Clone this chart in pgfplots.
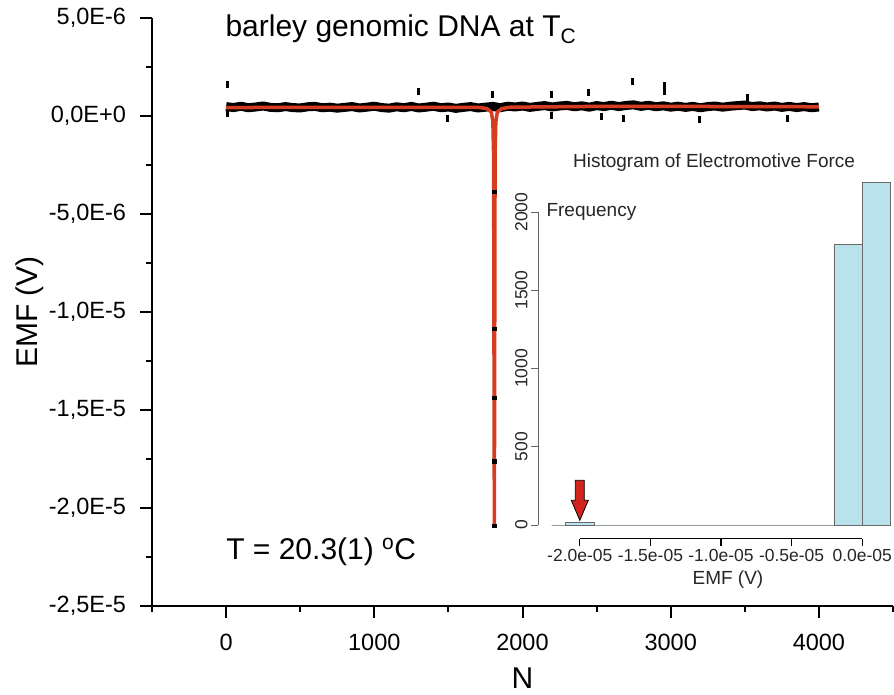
\documentclass[border=0pt]{standalone}
\usepackage{fontspec}
\setmainfont{Liberation Sans}
\usepackage{pgfplots}
\usepackage{pgfplotstable}
\pgfplotsset{compat=1.18}

\definecolor{fitred}{RGB}{214,60,34}
\definecolor{arrowred}{RGB}{210,36,28}
\definecolor{histblue}{RGB}{186,226,236}
\definecolor{histedge}{RGB}{105,105,105}

% black EMF band (sampled every 50 readings)
\pgfplotstableread{
N emf
0 4.8e-7
50 4.3e-7
100 5.0e-7
150 4.2e-7
200 4.6e-7
250 5.1e-7
300 4.4e-7
350 4.2e-7
400 4.8e-7
450 4.3e-7
500 4.1e-7
550 4.7e-7
600 4.9e-7
650 4.2e-7
700 4.5e-7
750 4.0e-7
800 4.4e-7
850 4.8e-7
900 4.1e-7
950 4.5e-7
1000 5.0e-7
1050 4.3e-7
1100 4.0e-7
1150 4.7e-7
1200 4.2e-7
1250 4.9e-7
1300 4.1e-7
1350 4.5e-7
1400 5.0e-7
1450 4.2e-7
1500 4.6e-7
1550 3.9e-7
1600 4.4e-7
1650 4.8e-7
1700 4.1e-7
1750 4.5e-7
1800 4.9e-7
1850 4.2e-7
1900 5.0e-7
1950 4.6e-7
2000 5.1e-7
2050 4.4e-7
2100 4.9e-7
2150 5.3e-7
2200 4.6e-7
2250 5.1e-7
2300 5.4e-7
2350 4.7e-7
2400 5.2e-7
2450 4.5e-7
2500 5.3e-7
2550 4.8e-7
2600 5.5e-7
2650 4.8e-7
2700 5.4e-7
2750 5.7e-7
2800 4.9e-7
2850 5.5e-7
2900 4.7e-7
2950 5.2e-7
3000 4.5e-7
3050 5.0e-7
3100 4.4e-7
3150 4.9e-7
3200 4.2e-7
3250 4.8e-7
3300 5.1e-7
3350 4.5e-7
3400 5.0e-7
3450 5.3e-7
3500 5.6e-7
3550 4.8e-7
3600 5.2e-7
3650 4.6e-7
3700 5.1e-7
3750 4.4e-7
3800 4.9e-7
3850 4.3e-7
3900 4.8e-7
3950 4.2e-7
4000 4.6e-7
}\bandtable

% isolated readings off the band
\pgfplotstableread{
N emf
10 1.62e-6
10 1.2e-7
1296 1.23e-6
1494 -1.2e-7
1800 1.12e-6
2196 1.12e-6
2196 2.0e-8
2443 1.20e-6
2533 -2.0e-8
2681 -1.5e-7
2740 1.74e-6
2955 1.55e-6
2955 1.25e-6
3192 -2.0e-7
3521 9.6e-7
3785 -1.5e-7
}\outliers

% fitted curve
\pgfplotstableread{
N emf
0 4.3e-7
500 4.4e-7
1000 4.4e-7
1500 4.45e-7
1700 4.4e-7
1760 3.8e-7
1790 2.0e-7
1800 -3.0e-7
1805 -2.0e-6
1810 -2.09e-5
1815 -2.0e-6
1820 -3.0e-7
1830 2.0e-7
1860 3.8e-7
1920 4.5e-7
2500 4.9e-7
3000 4.9e-7
3500 4.8e-7
4000 4.7e-7
}\fitcurve

\begin{document}
\begin{tikzpicture}
\begin{axis}[
    scale only axis,
    width=741pt, height=588pt,
    xmin=-500, xmax=4500,
    ymin=-2.5e-5, ymax=5e-6,
    clip=false,
    scaled x ticks=false, scaled y ticks=false,
    axis lines=left,
    axis line style={-, line width=2.4pt},
    tick align=outside,
    major tick length=11.5pt,
    minor tick length=6pt,
    tick style={black, line width=2pt},
    xtick={0,1000,2000,3000,4000},
    xticklabels={0,1000,2000,3000,4000},
    minor xtick={-500,500,1500,2500,3500,4500},
    ytick={-2.5e-5,-2e-5,-1.5e-5,-1e-5,-5e-6,0,5e-6},
    yticklabels={{-2,5E-5},{-2,0E-5},{-1,5E-5},{-1,0E-5},{-5,0E-6},{0,0E+0},{5,0E-6}},
    minor ytick={-2.25e-5,-1.75e-5,-1.25e-5,-7.5e-6,-2.5e-6,2.5e-6},
    tick label style={font=\fontsize{23.5}{23.5}\selectfont},
    xticklabel style={yshift=-13pt},
    yticklabel style={xshift=-11pt},
    xlabel={N}, ylabel={EMF (V)},
    label style={font=\fontsize{30}{30}\selectfont},
    xlabel style={at={(axis description cs:0.5,-0.122)}, anchor=center},
    ylabel style={at={(axis description cs:-0.165,0.5)}, anchor=center},
]
\addplot[black, line width=9pt, line join=round] table[x=N, y=emf] {\bandtable};
\addplot[only marks, mark=|, mark size=3.5pt, mark options={line width=3pt, black}] table[x=N, y=emf] {\outliers};
\addplot[fitred, line width=3.5pt] table[x=N, y=emf] {\fitcurve};
\addplot[only marks, mark=square*, mark size=1.8pt, black] coordinates {
    (1810,-3.86e-6) (1810,-1.086e-5) (1810,-1.437e-5) (1810,-1.761e-5) (1810,-2.09e-5)};
\node[anchor=base west, font=\fontsize{30}{30}\selectfont] at (rel axis cs:0.0945,0.9677)
    {barley genomic DNA at T\textsubscript{C}};
\node[anchor=base west, font=\fontsize{30}{30}\selectfont] at (rel axis cs:0.0955,0.0799)
    {T = 20.3(1) \textsuperscript{o}C};
\end{axis}

\begin{axis}[
    at={(386pt,67.3pt)}, anchor=south west,
    scale only axis,
    width=366pt, height=370.3pt,
    xmin=-2.296e-5, xmax=2.96e-6,
    ymin=-87.6, ymax=2278.6,
    scaled x ticks=false, scaled y ticks=false,
    axis lines=left,
    axis line style={draw=none},
    tick align=outside,
    major tick length=7pt,
    xtick={-2e-5,-1.5e-5,-1e-5,-5e-6,0},
    xticklabels={-2.0e-05,-1.5e-05,-1.0e-05,-0.5e-05,0.0e-05},
    ytick={0,500,1000,1500,2000},
    yticklabels={0,500,1000,1500,2000},
    yticklabel style={rotate=90, anchor=south},
    xtick style={black, line width=1.2pt},
    ytick style={black!60, line width=0.9pt},
    tick label style={font=\fontsize{17.5}{17.5}\selectfont, text=black!85},
    clip=false,
]
\addplot[ybar interval, fill=histblue, draw=histedge, line width=0.8pt] coordinates {
    (-2.2e-5,0) (-2.1e-5,17) (-1.9e-5,0) (-2e-6,1790) (0,2190) (2e-6,0)};
\draw[black, line width=1.2pt] (axis cs:-2e-5,-87.6) -- (axis cs:0,-87.6);
\draw[black!60, line width=0.9pt] (axis cs:-2.296e-5,0) -- (axis cs:-2.296e-5,2000);
\draw[fill=arrowred, draw=black, line width=0.8pt]
    (axis cs:-2e-5,30) -- ++(-8.5pt,20pt) -- ++(4pt,0pt) -- ++(0pt,20pt)
    -- ++(9pt,0pt) -- ++(0pt,-20pt) -- ++(4pt,0pt) -- cycle;
\node[anchor=west, font=\fontsize{19}{19}\selectfont, text=black!85] at (axis cs:-2.296e-5,2000)
    [xshift=5pt] {Frequency};
\node[font=\fontsize{19}{19}\selectfont, text=black!85] at (rel axis cs:0.481,1.017)
    {Histogram of Electromotive Force};
\node[font=\fontsize{19}{19}\selectfont, text=black!85] at (rel axis cs:0.519,0) [yshift=-41.3pt]
    {EMF (V)};
\end{axis}
\pgfresetboundingbox
\path[use as bounding box] (-152pt,-88pt) rectangle (742pt,606pt);
\end{tikzpicture}
\end{document}
